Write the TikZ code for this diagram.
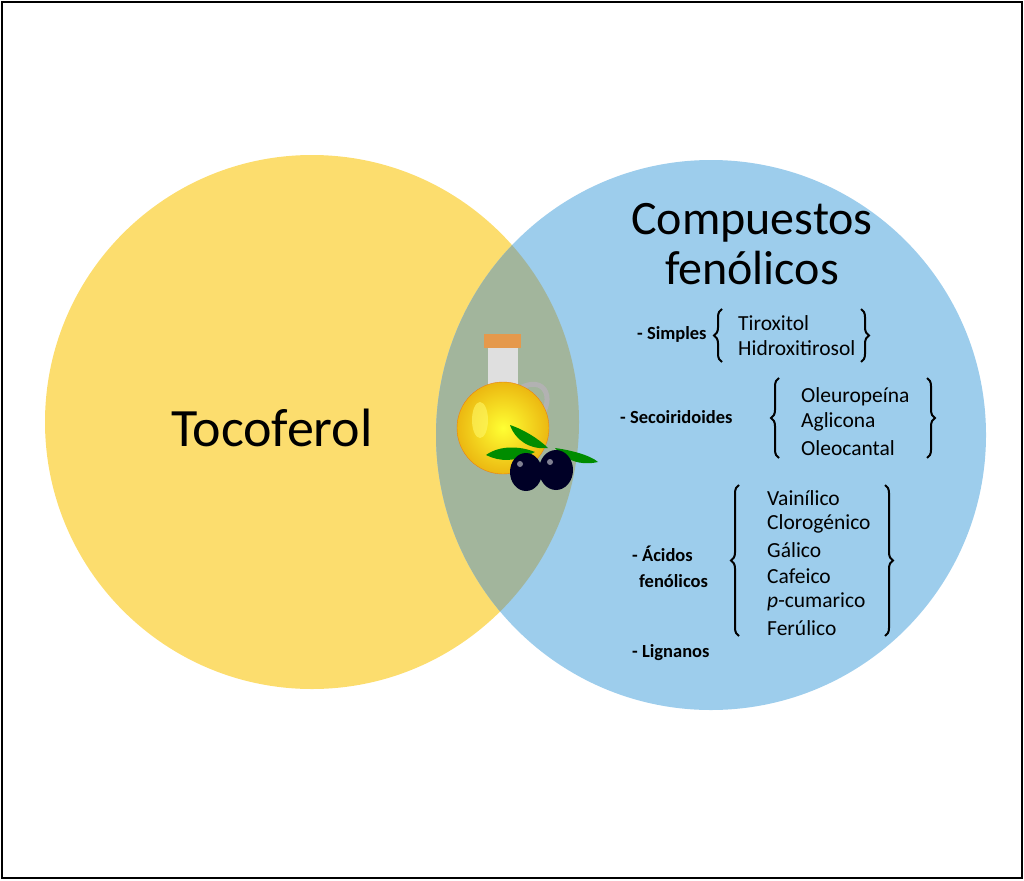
\documentclass[tikz,border=0pt]{standalone}
\usepackage{fontspec}
\setmainfont{Carlito}
\usetikzlibrary{decorations.pathreplacing}
\definecolor{cyel}{HTML}{FCDD6E}
\definecolor{cblu}{HTML}{9DCDEC}
\definecolor{cmix}{HTML}{A2B59C}
\definecolor{oil}{HTML}{E8C214}
\tikzset{
  item/.style={anchor=west,font=\fontsize{21.5}{26}\selectfont,inner sep=0pt},
  lab/.style={anchor=west,font=\fontsize{18.5}{26}\selectfont\bfseries,inner sep=0pt,align=left},
  br/.style={decorate,decoration={brace,amplitude=8pt},line width=2pt},
  title/.style={font=\fontsize{48}{54}\selectfont,align=center,inner sep=0pt}
}
\begin{document}
\begin{tikzpicture}[x=1pt,y=-1pt]
\useasboundingbox (0,0) rectangle (1024,880);
\draw[line width=2pt] (2,2) rectangle (1022,878);
% circles
\fill[cyel] (312,422) circle (267);
\fill[cblu] (711,435) circle (275);
\begin{scope}
\clip (312,422) circle (267);
\fill[cmix] (711,435) circle (275);
\end{scope}
% texts
\node[title,font=\fontsize{54}{60}\selectfont] (toco) at (272,428) {Tocoferol};
\node[title] (comp) at (752,244) {Compuestos\\[-4pt]fenólicos};
% simples
\node[lab] (sim) at (637,334) {- Simples};
\node[item] (s1) at (738,323) {Tiroxitol};
\node[item] (s2) at (738,348) {Hidroxitirosol};
\draw[br] (722,362) -- (722,309);
\draw[br] (861,309) -- (861,362);
% secoiridoides
\node[lab] (sec) at (620,417) {- Secoiridoides};
\node[item] (c1) at (801,397) {Oleuropeína};
\node[item] (c2) at (801,422) {Aglicona};
\node[item] (c3) at (801,448) {Oleocantal};
\draw[br] (779,458) -- (779,378);
\draw[br] (927,378) -- (927,458);
% acidos
\node[lab] (aci) at (632,567) {- Ácidos\\\hspace*{7pt}fenólicos};
\node[item] (a1) at (767,498) {Vainílico};
\node[item] (a2) at (767,524) {Clorogénico};
\node[item] (a3) at (767,550) {Gálico};
\node[item] (a4) at (767,576) {Cafeico};
\node[item] (a5) at (767,602) {\textit{p}-cumarico};
\node[item] (a6) at (767,628) {Ferúlico};
\draw[br] (739,636) -- (739,485);
\draw[br] (885,485) -- (885,636);
\node[lab] (lig) at (632,653) {- Lignanos};
% jug
\draw[line width=5pt,color=gray!60] (520,388) .. controls (552,372) and (556,412) .. (530,425);
\fill[gray!25] (488,347) rectangle (518,385);
\shade[inner color=yellow!80!white,outer color=oil!85!orange,draw=orange!70!brown] (503,428) circle (46);
\fill[yellow!60!white,opacity=0.6] (480,420) ellipse (8 and 18);
\fill[brown!50!orange!80] (484,334) rectangle (521,348);
\fill[green!55!black] (510,425) .. controls (525,430) and (540,440) .. (548,448) .. controls (530,450) and (515,440) .. (510,425);
\fill[green!55!black] (486,455) .. controls (500,445) and (520,446) .. (535,452) .. controls (515,462) and (500,462) .. (486,455);
\fill[green!55!black] (555,448) .. controls (570,450) and (590,455) .. (598,462) .. controls (580,466) and (565,460) .. (555,448);
\fill[black!85!blue] (526,472) ellipse (16 and 19);
\fill[black!85!blue] (556,470) ellipse (17 and 20);
\fill[white,opacity=0.5] (520,464) circle (3);
\fill[white,opacity=0.5] (550,462) circle (3);
\end{tikzpicture}
\end{document}
